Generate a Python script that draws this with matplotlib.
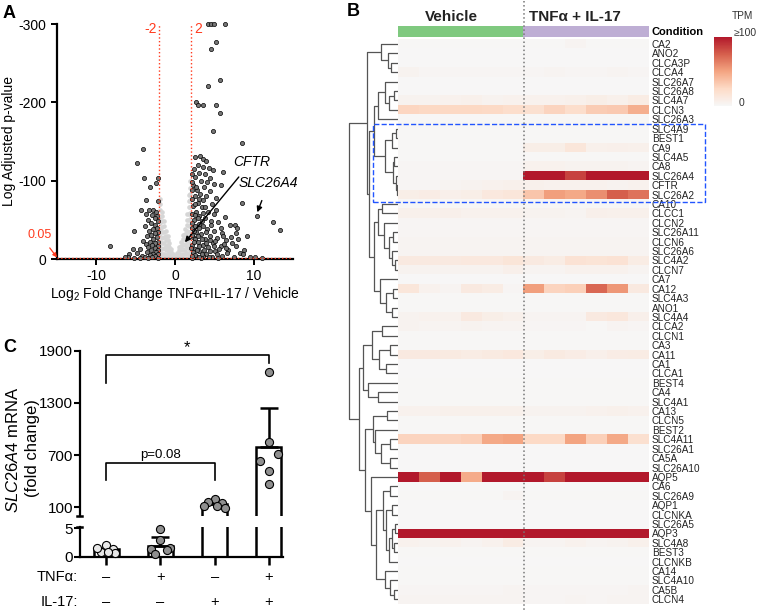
import matplotlib
matplotlib.use('Agg')
import matplotlib.pyplot as plt
from matplotlib.colors import LinearSegmentedColormap, ListedColormap
from matplotlib.patches import Rectangle
from matplotlib.lines import Line2D
import matplotlib.transforms as mtrans

plt.rcParams['font.family'] = ['Liberation Sans', 'DejaVu Sans']
plt.rcParams['axes.unicode_minus'] = False
plt.rcParams['mathtext.fontset'] = 'custom'
plt.rcParams['mathtext.rm'] = 'Liberation Sans'
plt.rcParams['mathtext.it'] = 'Liberation Sans:italic'

# ---------------- data: panel A (volcano) ----------------
# log2 fold change, log adjusted p-value
dark_pts = [
    (-4.06, -140), (-4.79, -122), (-3.93, -103), (-2.14, -104), (-2.44, -97), (-3.16, -92),
    (-3.72, -75), (-2.22, -74), (-4.36, -63), (-3.29, -62), (-2.86, -63), (-2.44, -60),
    (-3.7, -58), (-2.9, -56), (-2.3, -55), (-2.6, -52), (-3.4, -50), (-2.2, -48), (-3.0, -46),
    (-2.5, -44), (-3.8, -42), (-2.3, -40), (-2.8, -38), (-3.3, -36), (-5.21, -36), (-2.1, -35),
    (-2.6, -33), (-3.0, -31), (-3.5, -29), (-2.3, -28), (-2.8, -26), (-4.06, -23), (-2.1, -22),
    (-3.2, -22), (-2.5, -20), (-3.7, -19), (-2.9, -18), (-2.2, -16), (-8.29, -17), (-3.4, -15),
    (-2.6, -14), (-4.4, -13), (-5.3, -13), (-2.1, -12), (-3.0, -11), (-2.4, -9), (-3.6, -9),
    (-4.8, -8), (-2.8, -7), (-2.2, -6), (-5.8, -6), (-3.2, -5), (-4.2, -4), (-2.5, -4),
    (-6.0, -3), (-3.8, -2), (-2.9, -2), (-5.2, -1), (-4.5, -1), (-2.2, -1), (-3.4, -1), (-6.3, -2),
    (4.19, -300), (4.53, -300), (4.96, -300), (6.41, -300), (5.26, -277), (4.6, -268),
    (5.73, -228), (4.23, -221), (2.73, -200), (2.9, -197), (3.55, -197), (5.21, -196),
    (5.68, -187), (4.83, -164), (8.46, -148),
    (2.5, -130), (3.2, -132), (3.6, -128), (4.0, -125), (2.1, -108), (2.9, -120), (3.5, -118),
    (4.3, -116), (4.8, -113), (3.0, -110), (3.8, -108), (2.6, -105), (4.5, -104), (6.1, -111),
    (3.3, -100), (4.1, -98), (5.0, -96), (2.3, -95), (3.7, -92), (5.8, -94), (2.8, -88),
    (4.4, -87), (3.2, -83), (2.5, -80), (4.0, -80), (5.2, -78), (3.6, -75), (2.9, -72),
    (4.7, -70), (2.3, -68), (3.4, -66), (8.5, -71), (5.25, -63), (4.2, -60), (2.7, -60),
    (3.1, -55), (6.3, -54), (10.4, -55), (3.8, -52), (2.4, -50), (4.6, -49), (5.5, -47),
    (12.5, -47), (7.6, -43), (7.0, -44), (3.0, -45), (13.4, -37), (3.6, -42), (2.2, -40),
    (4.1, -38), (7.9, -40), (5.0, -36), (2.7, -35), (6.0, -33), (7.7, -33), (3.3, -32),
    (4.4, -30), (9.1, -29), (2.3, -28), (5.4, -27), (3.8, -25), (6.5, -24), (2.9, -22),
    (4.8, -21), (7.2, -20), (2.2, -18), (3.5, -18), (5.8, -17), (4.2, -15), (2.6, -13),
    (6.8, -12), (3.1, -10), (5.1, -10), (8.2, -8), (8.6, -7), (2.3, -6), (4.0, -6), (3.6, -4),
    (6.0, -4), (2.8, -3), (4.7, -2), (7.5, -2), (5.5, -1), (2.1, -1), (3.3, -1),
    (2.2, -58), (2.5, -56), (2.9, -52), (3.4, -48), (2.1, -46), (2.6, -42), (3.1, -39),
    (2.4, -36), (3.9, -34), (2.9, -30), (2.1, -31), (2.6, -26), (3.4, -25), (4.5, -24),
    (2.4, -22), (3.1, -17), (3.9, -20), (2.0, -14), (2.8, -11), (3.7, -12), (4.5, -10),
    (2.3, -9), (3.4, -7), (5.3, -6), (2.6, -5), (4.3, -3), (3.0, -2), (2.1, -4), (6.6, -8),
    (5.6, -13), (4.9, -16), (6.2, -19), (5.1, -23), (2.2, -88), (2.4, -115), (2.1, -98),
    (2.7, -92), (3.1, -76), (2.2, -76), (2.6, -70), (3.8, -66), (4.9, -57), (3.5, -59),
    (6.1, -29), (7.1, -28), (5.8, -39), (4.6, -43), (6.5, -14), (7.8, -17), (8.0, -25),
    (9.5, -3), (8.8, -12), (10.2, -2), (11.0, -1),
]
gray_pts = [
    (-1.95, -2), (-1.95, -8), (-1.95, -15), (-1.95, -22), (-1.95, -30), (-1.95, -38),
    (-1.95, -46), (-1.95, -54), (-1.95, -62), (-1.95, -70), (-1.95, -76),
    (-1.7, 0), (-1.7, -6), (-1.7, -13), (-1.7, -20), (-1.7, -27), (-1.7, -34), (-1.7, -41),
    (-1.7, -48), (-1.7, -55), (-1.7, -60),
    (-1.45, -1), (-1.45, -7), (-1.45, -14), (-1.45, -21), (-1.45, -28), (-1.45, -35),
    (-1.45, -42), (-1.45, -48),
    (-1.2, 0), (-1.2, -5), (-1.2, -11), (-1.2, -17), (-1.2, -24), (-1.2, -30), (-1.2, -36),
    (-0.95, -1), (-0.95, -6), (-0.95, -12), (-0.95, -18), (-0.95, -24), (-0.95, -29),
    (-0.7, 0), (-0.7, -5), (-0.7, -10), (-0.7, -15), (-0.7, -20),
    (-0.45, -1), (-0.45, -5), (-0.45, -9), (-0.45, -13),
    (-0.2, 0), (-0.2, -3), (-0.2, -6), (0.05, 0), (0.05, -2), (0.05, -4),
    (0.3, 0), (0.3, -4), (0.3, -8),
    (0.55, -1), (0.55, -6), (0.55, -11), (0.55, -15),
    (0.8, 0), (0.8, -5), (0.8, -11), (0.8, -17), (0.8, -22),
    (1.05, -1), (1.05, -7), (1.05, -13), (1.05, -19), (1.05, -25), (1.05, -31),
    (1.3, 0), (1.3, -6), (1.3, -12), (1.3, -18), (1.3, -25), (1.3, -32), (1.3, -38),
    (1.55, -1), (1.55, -8), (1.55, -15), (1.55, -22), (1.55, -29), (1.55, -36), (1.55, -43),
    (1.55, -50), (1.55, -58),
    (1.8, 0), (1.8, -7), (1.8, -14), (1.8, -21), (1.8, -28), (1.8, -35), (1.8, -42), (1.8, -50),
    (1.8, -58), (1.8, -66), (1.8, -74), (1.8, -82),
    (1.95, -3), (1.95, -11), (1.95, -19), (1.95, -27), (1.95, -35), (1.95, -43), (1.95, -51),
    (1.95, -59), (1.95, -67), (1.95, -75), (1.95, -83), (1.95, -91), (1.95, -100),
]
fc_cut = 2
padj_line = -1.3

# ---------------- data: panel B (heatmap) ----------------
genes = ['CA2', 'ANO2', 'CLCA3P', 'CLCA4', 'SLC26A7', 'SLC26A8', 'SLC4A7', 'CLCN3', 'SLC26A3',
         'SLC4A9', 'BEST1', 'CA9', 'SLC4A5', 'CA8', 'SLC26A4', 'CFTR', 'SLC26A2', 'CA10',
         'CLCC1', 'CLCN2', 'SLC26A11', 'CLCN6', 'SLC26A6', 'SLC4A2', 'CLCN7', 'CA7', 'CA12',
         'SLC4A3', 'ANO1', 'SLC4A4', 'CLCA2', 'CLCN1', 'CA3', 'CA11', 'CA1', 'CLCA1', 'BEST4',
         'CA4', 'SLC4A1', 'CA13', 'CLCN5', 'BEST2', 'SLC4A11', 'SLC26A1', 'CA5A', 'SLC26A10',
         'AQP5', 'CA6', 'SLC26A9', 'AQP1', 'CLCNKA', 'SLC26A5', 'AQP3', 'SLC4A8', 'BEST3',
         'CLCNKB', 'CA14', 'SLC4A10', 'CA5B', 'CLCN4']
condition = ['Vehicle'] * 6 + ['TNFα + IL-17'] * 6
tpm = [
    [1, 1, 1, 1, 1, 1, 1, 1, 3, 1, 1, 1],
    [0.5, 0.5, 0.5, 0.5, 0.5, 0.5, 0.5, 0.5, 0.5, 0.5, 0.5, 0.5],
    [0.5, 0.5, 0.5, 0.5, 0.5, 0.5, 0.5, 0.5, 0.5, 0.5, 0.5, 0.5],
    [4, 2, 2, 2, 2, 2, 2, 3, 2, 2, 3, 2],
    [0.5, 0.5, 0.5, 0.5, 0.5, 0.5, 0.5, 0.5, 0.5, 0.5, 0.5, 0.5],
    [0.5, 0.5, 0.5, 0.5, 0.5, 0.5, 0.5, 0.5, 0.5, 0.5, 0.5, 0.5],
    [4, 4, 5, 6, 4, 5, 5, 5, 6, 8, 6, 10],
    [27, 26, 26, 26, 25, 22, 20, 28, 22, 32, 33, 45],
    [1, 1, 1, 1, 1, 1, 1, 1, 1, 1, 1, 1],
    [1, 1, 1, 1, 1, 1, 1, 1, 1, 1, 1, 1],
    [1, 1, 1, 1, 1, 1, 1, 1, 1, 1, 1, 1],
    [1, 1, 1, 1, 1, 1, 8, 8, 15, 6, 7, 6],
    [1, 1, 1, 1, 1, 1, 1, 1, 1, 1, 1, 1],
    [2, 2, 2, 2, 2, 2, 5, 5, 4, 4, 4, 3],
    [2, 2, 2, 2, 2, 2, 100, 100, 85, 100, 100, 100],
    [2, 2, 3, 4, 5, 6, 6, 5, 5, 5, 4, 5],
    [8, 9, 7, 8, 13, 15, 35, 52, 48, 58, 75, 68],
    [1, 1, 1, 1, 1, 1, 1, 1, 1, 1, 1, 1],
    [6, 6, 7, 5, 5, 5, 4, 4, 3, 7, 6, 6],
    [2, 2, 2, 2, 2, 2, 2, 2, 2, 2, 2, 2],
    [2, 2, 2, 2, 2, 2, 2, 2, 2, 2, 2, 2],
    [3, 3, 3, 3, 3, 3, 3, 3, 3, 3, 3, 3],
    [3, 3, 3, 3, 3, 3, 3, 3, 3, 3, 3, 3],
    [12, 12, 12, 13, 13, 16, 12, 10, 18, 17, 18, 10],
    [4, 4, 4, 4, 4, 7, 3, 3, 5, 5, 5, 3],
    [0.5, 0.5, 0.5, 0.5, 0.5, 0.5, 0.5, 0.5, 0.5, 0.5, 0.5, 0.5],
    [15, 5, 3, 12, 10, 2, 52, 28, 30, 72, 55, 12],
    [1, 1, 1, 1, 1, 1, 1, 1, 1, 1, 1, 1],
    [1, 1, 1, 1, 1, 1, 1, 1, 1, 1, 1, 1],
    [4, 5, 5, 12, 8, 6, 3, 3, 3, 12, 14, 7],
    [4, 3, 3, 4, 3, 3, 2, 2, 2, 1, 3, 2],
    [1, 1, 1, 1, 1, 1, 1, 1, 1, 1, 1, 1],
    [1, 1, 1, 1, 1, 1, 1, 1, 1, 1, 1, 1],
    [12, 12, 11, 10, 11, 13, 8, 11, 9, 7, 9, 10],
    [0.5, 0.5, 0.5, 0.5, 0.5, 0.5, 0.5, 0.5, 0.5, 0.5, 0.5, 0.5],
    [0.5, 0.5, 0.5, 0.5, 0.5, 0.5, 0.5, 0.5, 0.5, 0.5, 0.5, 0.5],
    [1, 1, 1, 1, 1, 1, 1, 1, 1, 1, 1, 1],
    [1, 1, 1, 1, 1, 1, 1, 1, 1, 1, 1, 1],
    [1, 1, 1, 1, 1, 1, 1, 1, 1, 1, 1, 1],
    [5, 5, 6, 6, 6, 6, 4, 4, 4, 5, 6, 5],
    [1, 1, 1, 1, 1, 1, 1, 1, 1, 1, 1, 1],
    [1, 1, 1, 1, 1, 1, 1, 1, 1, 1, 1, 1],
    [28, 28, 28, 30, 48, 50, 25, 25, 50, 30, 48, 20],
    [0.5, 0.5, 0.5, 0.5, 0.5, 0.5, 0.5, 0.5, 0.5, 0.5, 0.5, 0.5],
    [0.5, 0.5, 0.5, 0.5, 0.5, 0.5, 0.5, 0.5, 0.5, 0.5, 0.5, 0.5],
    [0.5, 0.5, 0.5, 0.5, 0.5, 0.5, 0.5, 0.5, 0.5, 0.5, 0.5, 0.5],
    [100, 75, 100, 47, 100, 100, 100, 85, 100, 100, 100, 100],
    [0.5, 0.5, 0.5, 0.5, 0.5, 0.5, 0.5, 0.5, 0.5, 0.5, 0.5, 0.5],
    [1, 1, 1, 1, 1, 3, 1, 1, 1, 1, 1, 1],
    [0.5, 0.5, 0.5, 0.5, 0.5, 0.5, 0.5, 0.5, 0.5, 0.5, 0.5, 0.5],
    [0.5, 0.5, 0.5, 0.5, 0.5, 0.5, 0.5, 0.5, 0.5, 0.5, 0.5, 0.5],
    [0.5, 0.5, 0.5, 0.5, 0.5, 0.5, 0.5, 0.5, 0.5, 0.5, 0.5, 0.5],
    [100, 100, 100, 100, 100, 100, 100, 100, 100, 100, 100, 100],
    [5, 4, 5, 3, 5, 10, 3, 3, 5, 3, 4, 6],
    [1, 1, 1, 1, 1, 1, 1, 1, 1, 1, 1, 1],
    [0.5, 0.5, 0.5, 0.5, 0.5, 0.5, 0.5, 0.5, 0.5, 0.5, 0.5, 0.5],
    [1, 1, 1, 1, 1, 1, 1, 1, 1, 1, 1, 1],
    [1, 1, 1, 1, 1, 1, 1, 1, 1, 1, 1, 1],
    [2, 2, 2, 2, 2, 3, 2, 2, 2, 2, 2, 3],
    [3, 3, 3, 3, 3, 3, 2, 2, 3, 2, 3, 3],
]
# dendrogram: [left, right, height], leaves are row indices
A1 = [0, [1, [2, 3, 7], 10], 17]
A2 = [[4, [[5, 6, 4], 7, 9], 13], 8, 20]
A3 = [[[9, 10, 2], 11, 6], [[12, 13, 4], [14, [15, 16, 1], 2], 5], 13]
B1a = [[17, 18, 16], [19, [[20, 21, 5], [22, [23, 24, 3], 6], 9], 14], 20]
B1b = [25, [[26, 27, 5], [28, 29, 6], 12], 18]
Y1 = [[30, 31, 16], [[32, 33, 8], [34, 35, 12], 19], 26]
Y3 = [[47, 48, 8], [[49, 50, 6], [[[51, 52, 3], [53, 54, 4], 6], 55, 9], 12], 15]
Y4 = [56, [57, [58, 59, 4], 8], 13]
Y2 = [[[39, 40, 11], [41, [[42, 43, 8], [44, 45, 8], 17], 23], 25], [46, [Y3, Y4, 22], 27], 33]
tree = [[A1, [[A2, A3, 24], [B1a, B1b, 24], 29], 31],
        [[Y1, [36, [37, 38, 20], 30], 35], Y2, 39], 49]

# ---------------- data: panel C (qPCR) ----------------
groups = [0, 1, 2, 3]
means = [1.3, 1.9, 138, 790]
sem = [0.25, 1.5, 27, 455]
pts_dx = [[-0.1, 0.0, 0.12, -0.16, 0.16, 0.04],
          [0.0, 0.0, -0.17, 0.17, -0.1, 0.12],
          [0.0, -0.13, 0.13, -0.2, 0.05, 0.2],
          [0.0, 0.0, -0.17, 0.17, 0.0, 0.0]]
pts_y = [[0.8, 2.0, 1.4, 1.5, 0.6, 0.9],
         [4.8, 2.9, 1.3, 1.5, 0.5, 1.2],
         [200, 160, 150, 120, 110, 90],
         [1659, 854, 632, 713, 517, 368]]
tnf = ['–', '+', '–', '+']
il17 = ['–', '–', '+', '+']

W, H = 759, 612
fig = plt.figure(figsize=(W / 100, H / 100), dpi=100)


def box(l, t, r, b):
    return [l / W, 1 - b / H, (r - l) / W, (b - t) / H]


red = '#ff3b1f'

# ================= Panel A =================
axA = fig.add_axes(box(57, 24, 293, 259))
axA.scatter([p[0] for p in gray_pts], [p[1] for p in gray_pts], s=11, c='#d6d6d6', lw=0, zorder=2)
axA.scatter([p[0] for p in dark_pts], [p[1] for p in dark_pts], s=9, c='#777777',
            edgecolors='black', linewidths=0.5, zorder=3, clip_on=False)
axA.set_xlim(-15, 15)
axA.set_ylim(0, -300)
axA.axvline(-fc_cut, color=red, ls=':', lw=1, zorder=4)
axA.axvline(fc_cut, color=red, ls=':', lw=1, zorder=4)
axA.axhline(padj_line, color=red, ls=':', lw=1, zorder=4)
axA.set_xticks([-10, 0, 10])
axA.set_yticks([0, -100, -200, -300])
for s in ['top', 'right']:
    axA.spines[s].set_visible(False)
for s in ['left', 'bottom']:
    axA.spines[s].set_linewidth(1.6)
axA.tick_params(labelsize=10, width=1.4, length=4)
axA.set_xlabel('Log$_2$ Fold Change TNFα+IL-17 / Vehicle', fontsize=10, labelpad=1)
axA.set_ylabel('Log Adjusted p-value', fontsize=10, labelpad=2)
axA.text(-3.1, -293, '-2', color=red, fontsize=10, ha='center', va='center')
axA.text(2.9, -293, '2', color=red, fontsize=10, ha='center', va='center')
axA.annotate('0.05', xy=(-15, -2), xytext=(-17.2, -31), color=red, fontsize=9,
             ha='center', va='center', annotation_clip=False,
             arrowprops=dict(arrowstyle='-|>', color=red, lw=0.9, mutation_scale=6,
                             shrinkA=4, shrinkB=0))
axA.annotate('CFTR', xy=(1.15, -20), xytext=(9.7, -124), fontsize=10, style='italic',
             ha='center', va='center',
             arrowprops=dict(arrowstyle='-|>', color='black', lw=1, mutation_scale=8,
                             shrinkA=5, shrinkB=1))
axA.annotate('SLC26A4', xy=(10.4, -58), xytext=(11.9, -97), fontsize=10, style='italic',
             ha='center', va='center', annotation_clip=False,
             arrowprops=dict(arrowstyle='-|>', color='black', lw=1, mutation_scale=8,
                             shrinkA=6, shrinkB=1))

# ================= Panel B =================
cmap = LinearSegmentedColormap.from_list(
    'tpm', ['#f7f7f7', '#fddbc7', '#f4a582', '#d6604d', '#b2182b'])
axH = fig.add_axes(box(398, 39.3, 649, 604))
im = axH.imshow(tpm, cmap=cmap, vmin=0, vmax=100, aspect='auto', interpolation='nearest')
axH.yaxis.tick_right()
axH.set_yticks(range(len(genes)))
axH.set_yticklabels(genes, fontsize=7.2, color='#222222')
axH.set_xticks([])
axH.tick_params(length=0, pad=2)
for s in axH.spines.values():
    s.set_visible(False)

axD = fig.add_axes(box(348, 39.3, 398, 604))


def draw_tree(ax, node):
    if isinstance(node, int):
        return node, 0
    left, right, h = node
    y1, h1 = draw_tree(ax, left)
    y2, h2 = draw_tree(ax, right)
    ax.plot([h1, h, h, h2], [y1, y1, y2, y2], color='#555555', lw=0.9, solid_capstyle='butt')
    return (y1 + y2) / 2, h


draw_tree(axD, tree)
axD.set_xlim(50, 0)
axD.set_ylim(len(genes) - 0.5, -0.5)
axD.axis('off')

axCnd = fig.add_axes(box(398, 26, 649, 37))
cond_names = ['Vehicle', 'TNFα + IL-17']
axCnd.imshow([[cond_names.index(c) for c in condition]],
             cmap=ListedColormap(['#7fc97f', '#beaed4']), aspect='auto')
axCnd.axis('off')
fig.text(652 / W, 1 - 32 / H, 'Condition', fontsize=8, fontweight='bold', va='center')
fig.text(451 / W, 1 - 17 / H, cond_names[0], fontsize=11, fontweight='bold',
         ha='center', va='center', color='#222222')
fig.text(575 / W, 1 - 17 / H, cond_names[1], fontsize=11, fontweight='bold',
         ha='center', va='center', color='#222222')

cax = fig.add_axes(box(714, 37, 732, 106))
cb = fig.colorbar(im, cax=cax)
cb.outline.set_visible(False)
cb.set_ticks([])
fig.text(742 / W, 1 - 16 / H, 'TPM', fontsize=7.3, ha='center', va='center', color='#333333')
fig.text(734 / W, 1 - 33 / H, '≥100', fontsize=7.5, ha='left', va='center', color='#333333')
fig.text(739 / W, 1 - 103 / H, '0', fontsize=7.5, ha='left', va='center', color='#333333')

fig.add_artist(Line2D([523.5 / W, 523.5 / W], [1 - 1 / H, 1 - 610 / H], color='#777777',
                      ls=':', lw=1.1))
fig.add_artist(Rectangle((373 / W, 1 - 202 / H), (705 - 373) / W, (202 - 124) / H,
                         fill=False, ec='#2255ff', ls='--', lw=1))

# ================= Panel C =================
axCt = fig.add_axes(box(80, 350.7, 283, 516))
axCb = fig.add_axes(box(80, 527.2, 283, 556.7))
bar_w = 0.46
for ax, lo, hi in ((axCt, 5.2, 1900), (axCb, 0, 5.2)):
    ax.set_xlim(-0.48, 3.26)
    ax.spines['top'].set_visible(False)
    ax.spines['right'].set_visible(False)
    ax.spines['left'].set_linewidth(1.6)
    ax.spines['bottom'].set_linewidth(1.6)
    ax.tick_params(axis='y', labelsize=11, width=1.5, length=4, pad=1)
    shown = [g for g in groups if means[g] > lo]
    for g in shown:
        ax.bar(g, means[g] + 100, bottom=-100, width=bar_w, facecolor='white',
               edgecolor='black', linewidth=1.8, zorder=2)
    ax.errorbar(shown, [means[g] for g in shown], yerr=[[0] * len(shown), [sem[g] for g in shown]],
                fmt='none', ecolor='black', elinewidth=1.8, capsize=6.5, capthick=1.8, zorder=3)
    for g in groups:
        face = '#e8e8e8' if g == 0 else '#8f8f8f'
        xs = [g + d for d, v in zip(pts_dx[g], pts_y[g]) if lo <= v <= hi]
        ys = [v for v in pts_y[g] if lo <= v <= hi]
        ax.scatter(xs, ys, s=34, c=face, edgecolors='black', linewidths=0.8, zorder=4,
                   clip_on=False)

axCt.set_ylim(0, 1900)
axCt.set_yticks([100, 700, 1300, 1900])
axCt.spines['bottom'].set_visible(False)
axCt.set_xticks([])
axCb.set_ylim(0, 5.2)
axCb.set_yticks([0, 5])
axCb.set_xticks(groups)
axCb.set_xticklabels([])
axCb.tick_params(axis='x', direction='out', length=6, width=1.8)
# axis break marks
axCt.plot([-0.016, 0.008], [0, 0], transform=axCt.transAxes, color='black', lw=1.8,
          clip_on=False)
axCb.plot([-0.016, 0.008], [1.0, 1.0], transform=axCb.transAxes, color='black', lw=1.8,
          clip_on=False)

# significance brackets
axCt.plot([0, 0, 3, 3], [1532, 1850, 1850, 1755], color='black', lw=1.2, clip_on=False)
axCt.text(1.5, 1935, '*', fontsize=12, ha='center', va='center')
axCt.plot([0, 0, 2, 2], [414, 605, 605, 414], color='black', lw=1.2)
axCt.text(1.0, 700, 'p=0.08', fontsize=9.5, ha='center', va='center')

trC = mtrans.blended_transform_factory(axCb.transData, fig.transFigure)
axCb.text(-0.52, 1 - 577 / H, 'TNFα:', transform=trC, fontsize=10.5, ha='right', va='center')
axCb.text(-0.52, 1 - 602 / H, 'IL-17:', transform=trC, fontsize=10.5, ha='right', va='center')
for g in groups:
    axCb.text(g, 1 - 577 / H, tnf[g], transform=trC, fontsize=10.5, ha='center', va='center')
    axCb.text(g, 1 - 602 / H, il17[g], transform=trC, fontsize=10.5, ha='center', va='center')

fig.text(13 / W, 1 - 450 / H, r'$\mathit{SLC26A4}$ mRNA', rotation=90, fontsize=12,
         ha='center', va='center')
fig.text(32 / W, 1 - 448 / H, '(fold change)', rotation=90, fontsize=12,
         ha='center', va='center')

# panel letters
fig.text(3 / W, 1 - 13 / H, 'A', fontsize=13, fontweight='bold', va='center')
fig.text(347 / W, 1 - 12 / H, 'B', fontsize=13, fontweight='bold', va='center')
fig.text(3 / W, 1 - 347 / H, 'C', fontsize=13, fontweight='bold', va='center')

fig.savefig('out.png', dpi=100)
